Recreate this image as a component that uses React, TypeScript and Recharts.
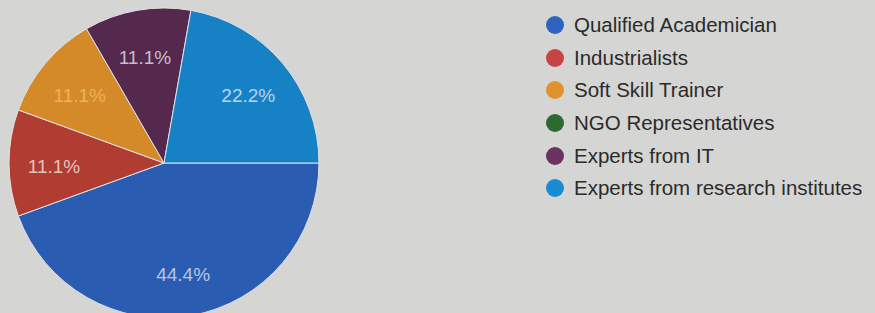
import { PieChart, Pie, Cell } from "recharts";

const categories = [
  "Qualified Academician",
  "Industrialists",
  "Soft Skill Trainer",
  "NGO Representatives",
  "Experts from IT",
  "Experts from research institutes",
];
const responses = [4, 1, 1, 0, 1, 2];

const sliceColors = ["#2a5cb2", "#b13c31", "#d58a2a", "#2f6a35", "#55284d", "#1781c6"];
const dotColors = ["#2f63c2", "#c64442", "#e0922f", "#2e6a30", "#6a3262", "#1a8ad2"];
const labelColors = ["#b9c6e0", "#e6c2bd", "#ecb15f", "#ffffff", "#c9bccb", "#b8d4ec"];

const data = categories.map((name, i) => ({ name, value: responses[i] }));

const RAD = Math.PI / 180;
const FONT = "Liberation Sans, Arial, sans-serif";

function renderLabel(props: any) {
  const { cx, cy, midAngle, percent, index } = props;
  if (!percent) return null;
  const r = 110;
  const x = cx + r * Math.cos(-midAngle * RAD);
  const y = cy + r * Math.sin(-midAngle * RAD) + 3;
  return (
    <text
      x={x}
      y={y}
      fill={labelColors[index]}
      textAnchor="middle"
      dominantBaseline="central"
      fontSize={19}
      fontFamily={FONT}
    >
      {(percent * 100).toFixed(1)}%
    </text>
  );
}

function LegendList() {
  return (
    <div style={{ position: "absolute", left: 546, top: 9, fontFamily: FONT }}>
      {categories.map((name, i) => (
        <div
          key={name}
          style={{ display: "flex", alignItems: "center", height: 32.6, fontSize: 20.5, color: "#2b2b2b" }}
        >
          <span
            style={{
              width: 18,
              height: 18,
              borderRadius: "50%",
              background: dotColors[i],
              marginRight: 10,
              flex: "none",
            }}
          />
          {name}
        </div>
      ))}
    </div>
  );
}

export default function App() {
  return (
    <div
      style={{
        position: "fixed",
        left: 0,
        top: 0,
        width: 875,
        height: 313,
        background: "#d5d5d3",
        overflow: "hidden",
      }}
    >
      <PieChart width={875} height={313} margin={{ top: 0, right: 0, bottom: 0, left: 0 }}>
        <Pie
          data={data}
          dataKey="value"
          nameKey="name"
          cx={164}
          cy={163}
          outerRadius={155}
          startAngle={0}
          endAngle={-360}
          stroke="#e2e2e6"
          strokeWidth={1}
          label={renderLabel}
          labelLine={false}
          isAnimationActive={false}
        >
          {data.map((d, i) => (
            <Cell key={d.name} fill={sliceColors[i]} />
          ))}
        </Pie>
      </PieChart>
      <LegendList />
    </div>
  );
}
